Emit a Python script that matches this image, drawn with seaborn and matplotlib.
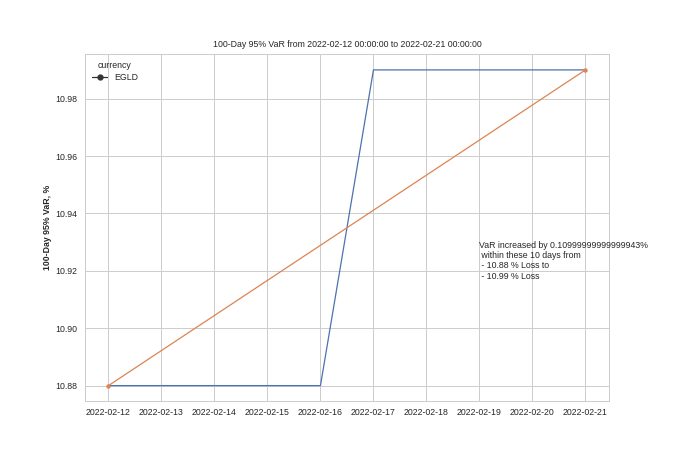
import matplotlib
matplotlib.use("Agg")
import matplotlib.pyplot as plt
import matplotlib.dates as mdates
from matplotlib.lines import Line2D
import seaborn as sns
import pandas as pd

dates = ["2022-02-12", "2022-02-13", "2022-02-14", "2022-02-15", "2022-02-16",
         "2022-02-17", "2022-02-18", "2022-02-19", "2022-02-20", "2022-02-21"]
var_values = [10.88, 10.88, 10.88, 10.88, 10.88, 10.99, 10.99, 10.99, 10.99, 10.99]
currency = "EGLD"
trend_dates = ["2022-02-12", "2022-02-21"]
trend_values = [10.88, 10.99]

sns.set_theme(style="whitegrid")
fs = 6.3
plt.rcParams.update({
    "font.family": ["Liberation Sans", "DejaVu Sans"],
    "font.size": fs,
    "axes.titlesize": fs,
    "axes.labelsize": fs,
    "xtick.labelsize": fs,
    "ytick.labelsize": fs,
    "legend.fontsize": fs,
    "legend.title_fontsize": fs,
    "grid.linewidth": 0.7,
    "axes.linewidth": 0.7,
    "lines.linewidth": 0.9,
    "xtick.major.size": 0,
    "ytick.major.size": 0,
    "xtick.major.pad": 4.5,
    "ytick.major.pad": 5.2,
})

df = pd.DataFrame({"date": pd.to_datetime(dates), "var": var_values,
                   "currency": [currency] * len(dates)})
tdf = pd.DataFrame({"date": pd.to_datetime(trend_dates), "var": trend_values})

fig, ax = plt.subplots(figsize=(6.77, 4.51), dpi=100)
sns.lineplot(data=df, x="date", y="var", ax=ax, legend=False, color="C0", linewidth=0.9)
sns.lineplot(data=tdf, x="date", y="var", ax=ax, legend=False, color="C1", linewidth=0.9,
             marker="o", markersize=3.2, markeredgewidth=0)

ax.xaxis.set_major_locator(mdates.DayLocator())
ax.xaxis.set_major_formatter(mdates.DateFormatter("%Y-%m-%d"))
ax.set_xlabel("")
ax.set_ylabel("100-Day 95% VaR, %", fontweight="bold", labelpad=2)
ax.set_title("100-Day 95% VaR from 2022-02-12 00:00:00 to 2022-02-21 00:00:00", pad=5)

handle = Line2D([], [], color=".2", marker="o", markersize=3.5, linewidth=0.9)
ax.legend([handle], [currency], title="currency", loc="upper left", frameon=False,
          handlelength=1.8, borderaxespad=0.4, labelspacing=0.3)

ax.text(pd.Timestamp("2022-02-19 00:00"), 10.9305,
        "VaR increased by 0.10999999999999943%\n within these 10 days from\n - 10.88 % Loss to\n - 10.99 % Loss",
        va="top", ha="left", fontsize=fs)

fig.savefig("out.png", dpi=100)
